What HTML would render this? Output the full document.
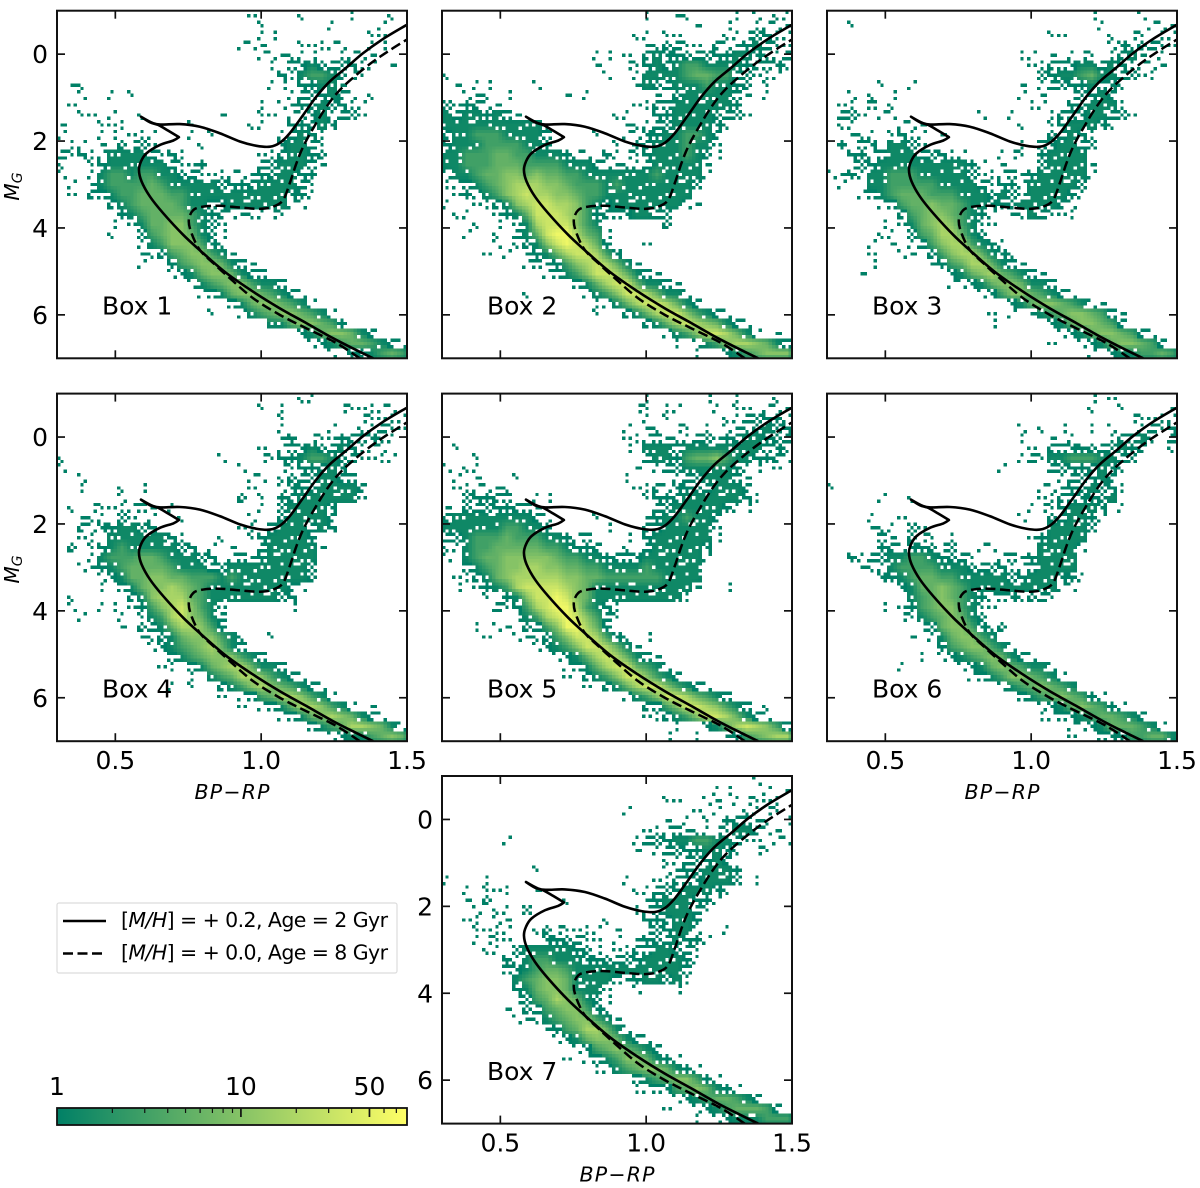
<!DOCTYPE html>
<html lang="en">
<head>
<meta charset="utf-8">
<title>Colour-magnitude diagrams, Box 1 to 7</title>
<style>
html,body{margin:0;padding:0;background:#fff;}
svg{display:block;font-family:"DejaVu Sans","Liberation Sans",sans-serif;fill:#000;}
</style>
</head>
<body>
<svg id="figure" xmlns="http://www.w3.org/2000/svg" width="1200" height="1188" viewBox="0 0 1200 1188">
  <defs>
    <linearGradient id="summer-gradient" x1="0" x2="1" y1="0" y2="0">
      <stop offset="0" stop-color="rgb(0,128,102)"/>
      <stop offset="1" stop-color="rgb(255,255,102)"/>
    </linearGradient>
  </defs>
  <rect x="0" y="0" width="1200" height="1188" fill="#fff"/>
  <g id="panels"></g>

  <g>
    <rect x="57" y="903" width="340" height="70" rx="2" fill="#fff" stroke="#dcdcdc" stroke-width="1.2"/>
    <line x1="63" x2="106" y1="921" y2="921" stroke="#000" stroke-width="2.6"/>
    <text x="121" y="927" font-size="20.5" textLength="267" lengthAdjust="spacing">[<tspan font-style="italic">M/H</tspan>] = + 0.2, Age = 2 Gyr</text>
    <line x1="63" x2="106" y1="953.5" y2="953.5" stroke="#000" stroke-width="2.5" stroke-dasharray="10 4.5"/>
    <text x="121" y="959.5" font-size="20.5" textLength="267" lengthAdjust="spacing">[<tspan font-style="italic">M/H</tspan>] = + 0.0, Age = 8 Gyr</text>
  </g>

  <g id="colorbar">
    <rect x="57" y="1108" width="350" height="17" fill="url(#summer-gradient)" stroke="#111" stroke-width="1.8"/>
  </g>
</svg>

<script>
// ---- Isochrones (BP-RP colour, absolute G magnitude)
const solidIsoColor = [1.384,1.326,1.247,1.155,1.064,0.973,0.881,0.801,0.733,0.664,0.619,0.590,0.581,0.588,0.607,0.653,0.698,0.718,0.681,0.647,0.619,0.588,0.630,0.660,0.721,0.790,0.858,0.927,0.984,1.030,1.064,1.098,1.144,1.189,1.235,1.292,1.349,1.418,1.498];
const solidIsoMag = [7.00,6.81,6.54,6.19,5.85,5.47,5.04,4.58,4.16,3.66,3.28,2.93,2.67,2.47,2.28,2.09,1.99,1.91,1.76,1.63,1.57,1.44,1.59,1.62,1.61,1.67,1.82,2.01,2.11,2.13,2.04,1.82,1.40,0.98,0.63,0.31,-0.02,-0.35,-0.67];
const dashedIsoColor = [1.338,1.258,1.155,1.064,0.973,0.893,0.836,0.790,0.761,0.752,0.767,0.801,0.858,0.927,0.995,1.041,1.075,1.098,1.121,1.144,1.178,1.224,1.269,1.326,1.384,1.441,1.498];
const dashedIsoMag = [7.00,6.65,6.31,6.00,5.62,5.16,4.81,4.51,4.12,3.82,3.59,3.51,3.49,3.53,3.56,3.51,3.36,2.97,2.51,2.13,1.71,1.21,0.83,0.48,0.17,-0.09,-0.33];

// ---- Axis tick labels
const xTickValues = [0.5,1.0,1.5];
const xTickLabels = ['0.5','1.0','1.5'];
const yTickValues = [0,2,4,6];
const yTickLabels = ['0','2','4','6'];
const colorbarLabelValues = [1,10,50];
const colorbarMinorValues = [2,3,4,5,6,7,8,9,20,30,40,60,70];

// ---- Density levels: star count per level, and how many of 9 sub-bins a sparse level fills
const levelCounts = [0,1,1,1.3,3,5.5,10,18,33,60];
const levelFill = [0,2,5,8,9,9,9,9,9,9];

// ---- Heatmaps: 35 rows (top = M_G -1) by 35 columns (left = colour 0.3), hand-read levels
const heatBox1 = [
"00000 00000 00000 00001 00001 00001 00010",
"00000 00000 00000 00000 10000 00100 00100",
"00000 00000 00000 00000 11000 00000 01100",
"00000 00000 00000 00011 10001 11110 01100",
"00000 00000 00000 00000 11111 10011 11000",
"00000 00000 00000 00000 01022 32222 11010",
"00000 00000 00000 00000 00213 44321 10000",
"01100 00000 00000 00000 01102 23310 00000",
"00100 10100 00000 00000 00012 22321 01000",
"01000 00000 00000 00000 10112 23221 10000",
"00110 10010 00000 01000 11011 23122 10000",
"10001 11000 00010 00001 10022 23200 00000",
"10001 10111 00010 10000 00123 21000 00000",
"01101 02121 00001 00000 00233 21000 00000",
"21211 33332 12100 00000 11233 22000 00000",
"10012 33333 32112 00000 22333 21000 00000",
"10013 44344 33221 11111 22332 20000 00000",
"01013 44445 43333 32222 33332 10000 00000",
"01022 34455 54433 33333 33322 10000 00000",
"00000 23455 55433 22333 33311 00000 00000",
"00000 02345 55543 22111 11100 00000 00000",
"00000 10135 56643 21000 00000 00000 00000",
"00000 10024 56653 21000 00000 00000 00000",
"00000 00013 46664 21000 00000 00000 00000",
"00000 00011 24566 43100 00000 00000 00000",
"00000 00010 02456 65321 00000 00000 00000",
"00000 00000 01235 66532 20000 00000 00000",
"00000 00000 00013 45664 33200 00000 00000",
"00000 00000 00001 23566 54321 00000 00000",
"00000 00000 00000 00235 66543 10000 00000",
"00000 00000 00000 10013 45665 43100 00000",
"00000 00000 00000 00000 03356 65420 00000",
"00000 00000 00000 00000 00002 35665 32000",
"00000 00000 00000 00000 00000 12345 54321",
"00000 00000 00000 00000 00000 00102 23454"
];
const heatBox2 = [
"00000 00000 00000 00000 10011 00001 01011",
"00000 00000 00000 00000 00000 10010 01111",
"00000 00000 00000 00001 10110 00011 12211",
"00000 00000 00000 00000 11221 10211 23211",
"00000 00000 00000 11010 23222 22223 32112",
"00000 00000 00000 10011 23234 43333 22221",
"10000 00000 00000 01001 33334 55442 21110",
"01011 00001 00000 00001 32233 34332 20100",
"00111 01000 00101 00000 01023 33332 10100",
"21221 10000 00000 00001 12233 33332 00000",
"32332 32100 00000 00110 02233 33222 10000",
"33333 33333 10000 00011 12233 33210 00000",
"23344 43333 20000 10011 22334 43200 00000",
"23334 44433 20000 00102 23334 33100 00000",
"33444 55443 33211 02111 23334 32100 00000",
"33444 55544 44333 21111 23333 31000 00000",
"13345 56656 55443 33333 34333 31000 00000",
"11234 56777 66544 43433 33333 20000 00000",
"01213 46787 76654 43333 33333 00000 00000",
"10011 23678 87764 32333 33331 10000 00000",
"01100 12358 88764 22223 32200 00000 00000",
"00010 10137 88864 30000 00200 00000 00000",
"00100 10235 89975 41000 00000 00000 00000",
"00000 10123 68987 52000 10000 00000 00000",
"00001 01012 35788 74200 00000 00000 00000",
"00000 00012 12467 87531 00000 00000 00000",
"00000 00000 12346 88753 21000 00000 00000",
"00000 00000 00023 57885 33210 00000 00000",
"00000 00010 00001 34688 75331 00000 00000",
"00000 00000 00000 11357 88753 20000 00000",
"00000 00000 00000 10023 57886 43210 00000",
"00000 00000 00000 00000 23578 76532 10000",
"00000 00000 00000 00000 00134 68875 31010",
"00000 00000 00000 00000 00010 13467 76532",
"00000 00000 00000 00000 00000 10023 45666"
];
const heatBox3 = [
"00000 00000 00000 00000 00000 01000 01000",
"00100 00000 00000 00000 00000 00100 00111",
"00000 00000 00000 00000 00110 00010 11011",
"00000 00000 00000 00000 00000 00012 12211",
"00000 00000 00000 00001 10101 11012 31010",
"00000 00000 00000 00000 11222 33232 11110",
"00000 00000 00000 00000 02233 45332 21100",
"00000 10010 00000 00001 01222 23221 00000",
"00101 01000 00000 00001 01001 22320 00000",
"01102 01000 00000 00000 11002 23331 00000",
"02210 11000 00000 10010 00122 23322 10000",
"01100 00111 00000 00001 00123 33210 00000",
"00111 01211 01000 00000 00223 21000 00000",
"02022 03321 00000 00001 02233 22000 00000",
"00221 23332 22110 00111 02333 30000 00000",
"00122 33333 33332 10100 02333 31000 00000",
"11213 34443 33332 11121 23333 31000 00000",
"01003 34444 43333 21221 33333 20000 00000",
"00012 34555 44433 32321 33332 10000 00000",
"00000 12455 65543 32223 33321 00000 00000",
"00000 00245 66543 21011 32111 00000 00000",
"00000 10135 67643 11000 00000 00000 00000",
"00000 11024 57753 20000 00000 00000 00000",
"00001 01012 46774 32100 00000 00000 00000",
"00001 00110 24677 53210 00000 00000 00000",
"00001 00000 12457 75321 00000 00000 00000",
"00010 00000 00235 67543 21000 00000 00000",
"00000 00000 00112 35665 33200 00000 00000",
"00000 00000 00000 12466 54321 00000 00000",
"00000 00000 00000 00023 56654 31100 00000",
"00000 00000 00000 01010 13456 65421 00000",
"00000 00000 00000 01000 00235 66542 00000",
"00000 00000 00000 00000 00012 35665 42100",
"00000 00000 00000 00000 00100 12356 65420",
"00000 00000 00000 00000 00000 01023 34454"
];
const heatBox4 = [
"00000 00000 00000 00000 00001 10000 00000",
"00000 00000 00000 00000 10100 00011 11110",
"00000 00000 00000 00000 00100 00000 11111",
"00000 00000 00000 00000 00100 00100 11211",
"00000 00000 00000 00000 00120 11122 22110",
"00000 00000 00000 00000 10122 32232 11100",
"10000 00000 00000 01000 11223 44322 11110",
"10000 00000 00000 00010 00112 22320 00000",
"00100 00000 00000 00001 10122 23322 00000",
"00100 01010 00000 00001 00122 23333 20000",
"00000 01000 00000 00020 10223 33333 10000",
"01011 11121 01000 00000 10233 33200 00000",
"00111 02101 00100 00001 00233 33200 00000",
"00212 23322 00000 00011 02333 23200 00000",
"00110 33333 32100 01001 23333 20000 00000",
"02012 34333 33220 10100 23333 31000 00000",
"00013 44455 43332 20121 23333 30000 00000",
"00112 34555 54333 22333 33333 20000 00000",
"00001 23556 65544 43433 33333 20000 00000",
"00001 02356 67654 33333 33321 00000 00000",
"01000 00236 77754 33333 33220 00000 00000",
"01001 10124 67864 31000 00010 00000 00000",
"00100 01013 47865 32000 00000 00000 00000",
"00000 01022 35776 42000 00000 00000 00000",
"00000 00011 23566 64310 01000 00000 00000",
"00000 00001 23456 75320 00000 00000 00000",
"00000 00000 02345 66643 20000 00000 00000",
"00000 00000 11023 56775 33200 00000 00000",
"00000 00000 00010 34577 64321 00000 00000",
"00000 00000 01010 02346 76543 21000 00000",
"00000 00000 00000 01012 45776 43100 00000",
"00000 00000 00000 00010 12357 76431 01000",
"00000 00000 00000 00000 00123 56765 32100",
"00000 00000 00000 00000 00000 23457 76531",
"00000 00000 00000 00000 00000 00123 34565"
];
const heatBox5 = [
"00000 00000 00000 00000 10000 01001 00010",
"00000 00000 00000 00001 10110 00101 10111",
"00000 00000 00000 00000 10100 00011 22221",
"00000 00000 00000 00010 11011 01011 12322",
"00000 00000 00000 00011 12111 22122 33222",
"01000 00000 00000 00010 33323 33333 33221",
"00010 00000 00000 00000 23324 55643 32221",
"10110 00000 00000 00001 01223 33332 11010",
"01010 00100 00000 00010 00012 23332 10000",
"01111 11000 00000 00001 12122 22333 20000",
"00222 22001 10000 00000 12223 33333 21000",
"10222 22221 00000 00000 02233 33321 10000",
"23333 33332 10000 10000 12334 33200 00000",
"33333 34433 20000 01000 22333 33100 00000",
"22344 45444 33212 00010 23333 33100 00000",
"11344 55555 44322 20010 23333 32000 00000",
"10345 56666 65443 32222 33333 31000 00000",
"00234 56677 66554 43333 43333 30000 00000",
"01123 56777 77665 54444 44333 30000 00000",
"01012 34788 88765 33333 33333 10010 00000",
"00001 02368 89865 33333 33331 00000 00000",
"00000 21247 89974 32100 00000 00000 00000",
"00000 00134 78986 42100 00000 00000 00000",
"00010 11022 46997 52000 00000 00000 00000",
"00001 00111 24688 74210 10000 00000 00000",
"00000 00001 23468 87531 00000 00000 00000",
"00000 00000 01235 78753 21000 00000 00000",
"00000 00000 00123 57885 43100 00000 00000",
"00000 00000 00102 34688 64320 00000 00000",
"00000 00000 00001 02357 88643 21000 00000",
"00000 00000 00000 00013 46887 54320 00000",
"00000 00000 00000 00000 22468 87643 20100",
"00000 00000 00000 00000 11234 68875 32100",
"00000 00000 00000 00000 00010 02357 87642",
"00000 00000 00000 00000 00100 10012 45677"
];
const heatBox6 = [
"00000 00000 00000 00000 00000 01010 00000",
"00000 00000 00000 00000 00000 01001 00001",
"00000 00000 00000 00000 00000 00000 11111",
"00000 00000 00000 00001 01010 01010 01212",
"00000 00000 00000 00001 00101 00012 23102",
"00000 00000 00000 00000 10222 22223 22001",
"00000 00000 00000 00001 21334 44332 20000",
"00000 00000 00000 00100 00222 22321 00000",
"00000 00000 00000 00000 00012 22320 00000",
"10000 00000 00000 00000 01112 23221 00000",
"00000 10010 00000 00000 01122 22230 00000",
"00000 00000 00000 00000 11123 33201 00000",
"00001 00100 00000 00001 00223 32100 00000",
"00001 11021 00000 00000 00333 32000 00000",
"00000 21021 10100 00000 12333 30000 00000",
"00000 22122 21200 11000 03333 10000 00000",
"00212 23344 32221 00121 23333 00000 00000",
"00011 13444 43332 22211 23333 00000 00000",
"00000 22345 54433 33322 33322 10000 00000",
"00000 00235 56543 33333 33311 00000 00000",
"00000 00034 56543 21221 22100 00000 00000",
"00000 10124 56643 11000 00000 00000 00000",
"00000 00113 45653 20000 00000 00000 00000",
"00000 00001 25664 21200 00000 00000 00000",
"00000 00010 13566 43000 00000 00000 00000",
"00000 00000 02456 64310 00000 00000 00000",
"00000 00001 01234 56532 10000 00000 00000",
"00000 00100 00012 35654 33100 00000 00000",
"00000 00000 00001 23466 54310 00000 00000",
"00000 00000 00000 00134 56543 00000 00000",
"00000 00000 00000 00002 34565 42100 00000",
"00000 00000 00000 00000 01235 65421 00000",
"00000 00000 00000 00000 01122 34554 32000",
"00000 00000 00000 00000 00001 12355 54310",
"00000 00000 00000 00000 00001 00222 44553"
];
const heatBox7 = [
"00000 00000 00000 00000 00000 00000 01000",
"00000 00000 00000 00000 00000 00110 00101",
"00000 00000 00000 00000 00110 01101 11110",
"00000 00000 00000 00010 00000 10100 11110",
"00000 00000 00000 00000 00101 01022 21101",
"00000 00000 00000 00000 11121 11113 32110",
"00000 01000 00000 00001 22233 44332 11011",
"00000 00000 00000 00001 01222 23321 01100",
"00000 00000 00000 00000 00112 22320 00000",
"00000 00001 00000 00000 00112 23332 00000",
"10001 00000 00000 00010 01122 23332 01000",
"00101 11001 00000 00001 12223 33210 00000",
"00102 00000 00100 00000 12333 22100 00000",
"00010 11020 00000 00001 12333 21000 00000",
"00110 11000 00000 01000 22233 20000 00000",
"00011 11001 21111 10100 12233 10010 00000",
"00011 11000 22221 10101 22232 21000 00000",
"00001 10233 33322 10112 23322 10000 00000",
"00000 02134 43332 22222 33332 10000 00000",
"00000 02234 55433 33333 33332 00000 00000",
"00000 00345 66533 33212 33231 00000 00000",
"00000 00235 66533 31001 00010 00000 00000",
"00000 00124 57653 21000 00000 00000 00000",
"00000 01022 45664 21000 00000 00000 00000",
"00000 00111 34566 43100 00000 00000 00000",
"00000 00000 12457 75310 00000 00000 00000",
"00000 00000 01235 66532 10000 00000 00000",
"00000 00000 00012 45654 32000 00000 00000",
"00000 00000 00101 23466 53210 00000 00000",
"00000 00000 00000 11345 66532 10000 00000",
"00000 00000 00000 00002 34566 42100 00000",
"00000 00000 00000 00001 12245 65321 00000",
"00000 00000 00000 00000 00012 34554 32000",
"00000 00000 00000 00000 00100 12345 55420",
"00000 00000 00000 00000 00000 10123 33444"
];

// ---- Layout and scales
const NS = 'http://www.w3.org/2000/svg';
const X_MIN = 0.3, X_MAX = 1.5, Y_MIN = -1, Y_MAX = 7, PANEL_W = 350, PANEL_H = 347.6;
const COLOR_MAX = 80;
const GRID_N = 35;
function xScale(p, v) { return p.left + (v - X_MIN) / (X_MAX - X_MIN) * PANEL_W; }
function yScale(p, v) { return p.top + (v - Y_MIN) / (Y_MAX - Y_MIN) * PANEL_H; }
function logPos(v) { return Math.log(v) / Math.log(COLOR_MAX); }
function colorOf(t) {
  return 'rgb(' + Math.round(255 * t) + ',' + Math.round(128 + 127 * t) + ',102)';
}
function make(tag, attrs, parent) {
  const el = document.createElementNS(NS, tag);
  for (const k in attrs) el.setAttribute(k, attrs[k]);
  parent.appendChild(el);
  return el;
}
function smoothPath(p, xs, ys) {
  const pts = xs.map((x, i) => [xScale(p, x), yScale(p, ys[i])]);
  // Tangent at a vertex; a sharp reversal keeps zero tangent so the curve does not overshoot.
  function tangent(i) {
    const a = pts[Math.max(i - 1, 0)], b = pts[i], c = pts[Math.min(i + 1, pts.length - 1)];
    const dot = (b[0] - a[0]) * (c[0] - b[0]) + (b[1] - a[1]) * (c[1] - b[1]);
    if (dot < 0) return [0, 0];
    return [(c[0] - a[0]) / 6, (c[1] - a[1]) / 6];
  }
  let d = 'M' + pts[0][0].toFixed(2) + ' ' + pts[0][1].toFixed(2);
  for (let i = 0; i < pts.length - 1; i++) {
    const b = pts[i], c = pts[i + 1], tb = tangent(i), tc = tangent(i + 1);
    d += 'C' + (b[0] + tb[0]).toFixed(2) + ' ' + (b[1] + tb[1]).toFixed(2) + ' ' + (c[0] - tc[0]).toFixed(2) + ' ' + (c[1] - tc[1]).toFixed(2) + ' ' + c[0].toFixed(2) + ' ' + c[1].toFixed(2);
  }
  return d;
}

const subcellOrder = [4,0,8,2,6,1,7,3,5];
function drawHeat(p, rows, group) {
  const binX = (X_MAX - X_MIN) / GRID_N, binY = (Y_MAX - Y_MIN) / GRID_N;
  const grid = rows.map(t => t.replace(/ /g, '').split('').map(Number));
  function tAt(r, c) {
    if (r < 0 || c < 0 || r >= grid.length || c >= GRID_N) return 0;
    return logPos(Math.max(levelCounts[grid[r][c]], 1));
  }
  // Colour of one sub-bin, blended from the neighbouring cell levels.
  function blended(r, c, sx, sy) {
    const u = (sx + 0.5) / 3 - 0.5, v = (sy + 0.5) / 3 - 0.5;
    const c2 = c + (u < 0 ? -1 : 1), r2 = r + (v < 0 ? -1 : 1);
    const au = Math.abs(u), av = Math.abs(v);
    return tAt(r, c) * (1 - au) * (1 - av) + tAt(r, c2) * au * (1 - av) + tAt(r2, c) * (1 - au) * av + tAt(r2, c2) * au * av;
  }
  grid.forEach((row, r) => {
    for (let c = 0; c < row.length; c++) {
      const level = row[c];
      if (!level) continue;
      const x0 = xScale(p, X_MIN + c * binX), x1 = xScale(p, X_MIN + (c + 1) * binX);
      const y0 = yScale(p, Y_MIN + r * binY), y1 = yScale(p, Y_MIN + (r + 1) * binY);
      const sw = (x1 - x0) / 3, sh = (y1 - y0) / 3;
      for (let i = 0; i < levelFill[level]; i++) {
        const s = subcellOrder[(i + r * 4 + c * 7) % 9];
        const sx = s % 3, sy = Math.floor(s / 3);
        const t = level >= 3 ? blended(r, c, sx, sy) : 0;
        const cell = make('rect', { x: (x0 + sx * sw).toFixed(2), y: (y0 + sy * sh).toFixed(2), width: sw.toFixed(2), height: sh.toFixed(2), fill: colorOf(t), 'shape-rendering': 'crispEdges' }, group);
        
        
      }
    }
  });
}

function drawPanel(p) {
  const root = document.getElementById('panels');
  const g = make('g', {}, root);
  
  

  const clip = make('clipPath', { id: 'clip-' + p.id }, g);
  
  
  make('rect', { x: p.left, y: p.top, width: PANEL_W, height: PANEL_H }, clip);

  const heat = make('g', { 'clip-path': 'url(#clip-' + p.id + ')' }, g);
  
  
  drawHeat(p, p.heat, heat);

  const solid = make('path', { d: smoothPath(p, solidIsoColor, solidIsoMag), fill: 'none', stroke: '#000', 'stroke-width': 2.6, 'stroke-linejoin': 'round', 'clip-path': 'url(#clip-' + p.id + ')' }, g);
  
  
  const dashed = make('path', { d: smoothPath(p, dashedIsoColor, dashedIsoMag), fill: 'none', stroke: '#000', 'stroke-width': 2.5, 'stroke-dasharray': '10 4.5', 'clip-path': 'url(#clip-' + p.id + ')' }, g);
  
  

  const frame = make('rect', { x: p.left, y: p.top, width: PANEL_W, height: PANEL_H, fill: 'none', stroke: '#111', 'stroke-width': 2 }, g);
  
  

  xTickValues.forEach((v, i) => {
    const x = xScale(p, v);
    if (v < X_MAX) {
      const top = make('line', { x1: x, x2: x, y1: p.top, y2: p.top + 8, stroke: '#111', 'stroke-width': 1.7 }, g);
      
      
      const bottom = make('line', { x1: x, x2: x, y1: p.top + PANEL_H, y2: p.top + PANEL_H - 8, stroke: '#111', 'stroke-width': 1.7 }, g);
      
      
    }
    if (p.xLabels) {
      const t = make('text', { x: x, y: p.top + PANEL_H + 28, 'font-size': 25, 'text-anchor': 'middle' }, g);
      
      
      t.textContent = xTickLabels[i];
    }
  });
  yTickValues.forEach((v, i) => {
    const y = yScale(p, v);
    const left = make('line', { x1: p.left, x2: p.left + 8, y1: y, y2: y, stroke: '#111', 'stroke-width': 1.7 }, g);
    
    
    const right = make('line', { x1: p.left + PANEL_W, x2: p.left + PANEL_W - 8, y1: y, y2: y, stroke: '#111', 'stroke-width': 1.7 }, g);
    
    
    if (p.yLabels) {
      const t = make('text', { x: p.left - 9, y: y + 9, 'font-size': 25, 'text-anchor': 'end' }, g);
      
      
      t.textContent = yTickLabels[i];
    }
  });

  const box = make('text', { x: p.left + 45, y: p.top + 304, 'font-size': 25 }, g);
  
  
  box.textContent = 'Box ' + p.id;

  if (p.xTitle) {
    const xt = make('text', { x: p.left + 175, y: p.top + PANEL_H + 58, 'font-size': 20.5, 'font-style': 'italic', 'text-anchor': 'middle', textLength: 75, lengthAdjust: 'spacing' }, g);
    
    
    xt.textContent = 'BP\u2212RP';
  }
  if (p.yTitle) {
    const cy = p.top + PANEL_H / 2 + 2;
    const yt = make('text', { x: 0, y: 0, 'font-size': 20, 'font-style': 'italic', 'text-anchor': 'middle', transform: 'translate(19 ' + cy + ') rotate(-90)' }, g);
    
    
    yt.textContent = 'M';
    const sub = make('tspan', { 'font-size': 14, dy: 3 }, yt);
    
    
    sub.textContent = 'G';
  }
}

const panelConfigs = [
  { id: 1, left: 57,  top: 10.7,  heat: heatBox1, xLabels: false, yLabels: true,  xTitle: false, yTitle: true  },
  { id: 2, left: 442, top: 10.7,  heat: heatBox2, xLabels: false, yLabels: false, xTitle: false, yTitle: false },
  { id: 3, left: 827, top: 10.7,  heat: heatBox3, xLabels: false, yLabels: false, xTitle: false, yTitle: false },
  { id: 4, left: 57,  top: 393.6, heat: heatBox4, xLabels: true,  yLabels: true,  xTitle: true,  yTitle: true  },
  { id: 5, left: 442, top: 393.6, heat: heatBox5, xLabels: false, yLabels: false, xTitle: false, yTitle: false },
  { id: 6, left: 827, top: 393.6, heat: heatBox6, xLabels: true,  yLabels: false, xTitle: true,  yTitle: false },
  { id: 7, left: 442, top: 776,   heat: heatBox7, xLabels: true,  yLabels: true,  xTitle: true,  yTitle: false }
];
panelConfigs.forEach(drawPanel);

// ---- Colorbar ticks and labels
const bar = document.getElementById('colorbar');
function barX(v) { return 57 + logPos(v) * 350; }
colorbarLabelValues.forEach(v => {
  const t = make('text', { x: barX(v), y: 1095, 'font-size': 25, 'text-anchor': 'middle' }, bar);
  
  
  t.textContent = String(v);
  if (v > 1) {
    const tick = make('line', { x1: barX(v), x2: barX(v), y1: 1108, y2: 1117, stroke: '#111', 'stroke-width': 1.7 }, bar);
    
    
  }
});
colorbarMinorValues.forEach(v => {
  const tick = make('line', { x1: barX(v), x2: barX(v), y1: 1108, y2: 1113, stroke: '#111', 'stroke-width': 1.2 }, bar);
  
  
});
</script>
</body>
</html>
